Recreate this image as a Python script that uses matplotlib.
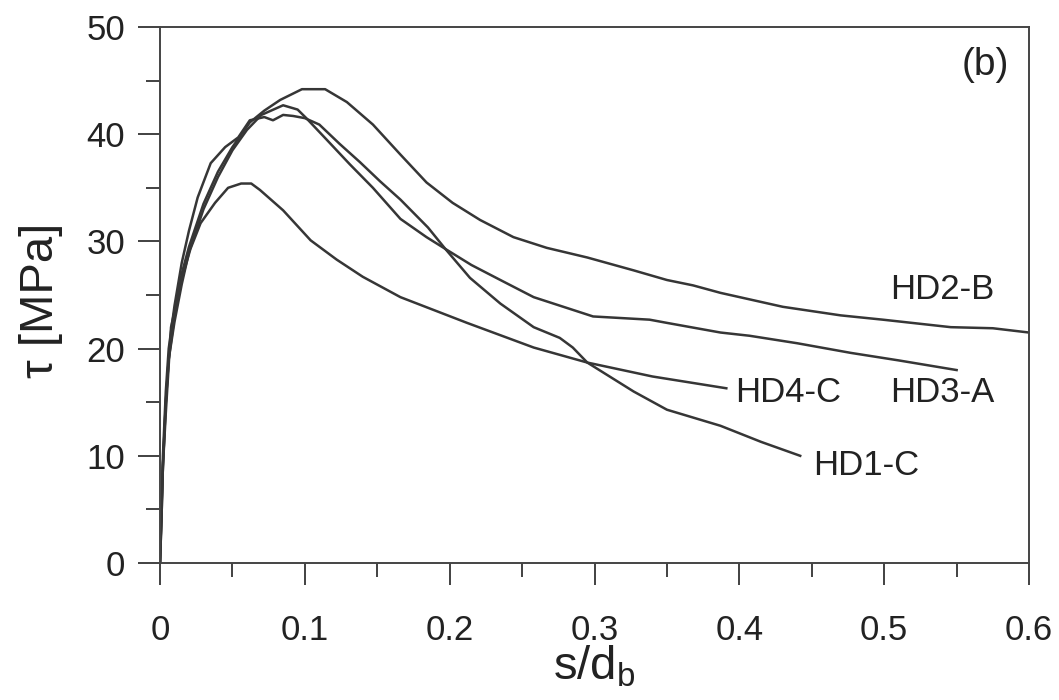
import matplotlib
matplotlib.use("Agg")
import matplotlib.pyplot as plt
from matplotlib.ticker import MultipleLocator

plt.rcParams['font.family'] = ['Liberation Sans', 'DejaVu Sans']

# bond stress - slip curves (s/db, tau in MPa)
hd2b_s = [0, .001, .002, .004, .006, .01, .015, .02, .03, .04, .05, .062, .072, .083,
          .098, .114, .129, .147, .166, .184, .202, .221, .244, .267, .295, .327, .350,
          .368, .387, .430, .470, .499, .546, .575, .600]
hd2b_t = [0, 4, 9, 15, 19, 23, 27, 29.5, 33.5, 36.5, 38.8, 41.1, 42.2, 43.2,
          44.2, 44.2, 43.0, 40.9, 38.1, 35.5, 33.6, 32.0, 30.4, 29.4, 28.5, 27.3, 26.4,
          25.9, 25.2, 23.9, 23.1, 22.7, 22.0, 21.9, 21.5]

hd1c_s = [0, .001, .002, .004, .006, .01, .015, .02, .026, .035, .045, .054, .062, .072,
          .078, .085, .092, .1, .110, .124, .138, .152, .166, .185, .197, .214, .235, .258,
          .276, .285, .295, .327, .350, .387, .415, .442]
hd1c_t = [0, 5, 10, 16, 20, 24, 28, 31, 34.1, 37.3, 38.8, 39.7, 41.3, 41.6,
          41.3, 41.8, 41.7, 41.5, 40.9, 39.1, 37.4, 35.6, 33.9, 31.3, 29.3, 26.6, 24.2, 22.0,
          21.0, 20.1, 18.7, 16.0, 14.3, 12.8, 11.3, 10.0]

hd3a_s = [0, .001, .002, .004, .006, .01, .015, .02, .03, .04, .05, .06, .07, .085,
          .095, .101, .115, .131, .147, .166, .184, .197, .215, .235, .258, .299,
          .338, .350, .387, .407, .440, .477, .510, .550]
hd3a_t = [0, 4, 9, 15, 19, 22.5, 26, 29, 33, 36, 38.5, 40.4, 41.8, 42.7,
          42.3, 41.5, 39.5, 37.2, 35.0, 32.1, 30.4, 29.3, 27.8, 26.4, 24.8, 23.0,
          22.7, 22.4, 21.5, 21.2, 20.5, 19.6, 18.9, 18.0]

hd4c_s = [0, .001, .002, .004, .0076, .014, .021, .028, .038, .047, .056, .063, .069,
          .085, .104, .122, .140, .166, .212, .258, .295, .340, .391]
hd4c_t = [0, 5, 9, 14, 22, 26, 29.3, 31.7, 33.6, 35.0, 35.4, 35.4, 34.8,
          32.9, 30.1, 28.3, 26.7, 24.8, 22.4, 20.1, 18.7, 17.4, 16.3]

series = [(hd2b_s, hd2b_t), (hd1c_s, hd1c_t), (hd3a_s, hd3a_t), (hd4c_s, hd4c_t)]
labels = [("HD2-B", 0.504, 25.5), ("HD3-A", 0.504, 15.9),
          ("HD4-C", 0.397, 15.9), ("HD1-C", 0.451, 9.1)]

fig = plt.figure(figsize=(10.59, 7), dpi=100)
ax = fig.add_axes([0.1511, 0.1957, 0.8206, 0.7657])

for s, t in series:
    ax.plot(s, t, color="#363636", lw=1.8)

for name, x, y in labels:
    ax.text(x, y, name, fontsize=25, color="#222222", va="center", ha="left")
ax.text(0.57, 46.5, "(b)", fontsize=28, color="#222222", va="center", ha="center")

ax.set_xlim(0, 0.6)
ax.set_ylim(0, 50)
ax.xaxis.set_major_locator(MultipleLocator(0.1))
ax.xaxis.set_minor_locator(MultipleLocator(0.05))
ax.yaxis.set_major_locator(MultipleLocator(10))
ax.yaxis.set_minor_locator(MultipleLocator(5))
ax.set_xticks([0, 0.1, 0.2, 0.3, 0.4, 0.5, 0.6])
ax.set_xticklabels(["0", "0.1", "0.2", "0.3", "0.4", "0.5", "0.6"])

ax.tick_params(which="major", direction="out", length=16, width=1.3,
               color="#333333", labelsize=25, labelcolor="#222222")
ax.tick_params(which="minor", direction="out", length=10, width=1.3, color="#333333")
ax.tick_params(axis="x", which="major", pad=21)
ax.tick_params(axis="y", which="major", pad=9)

for sp in ax.spines.values():
    sp.set_linewidth(1.4)
    sp.set_color("#444444")

ax.set_xlabel("s/d$_\\mathregular{b}$", fontsize=34, color="#222222")
ax.set_ylabel("\u03c4 [MPa]", fontsize=34, color="#222222")
ax.xaxis.set_label_coords(0.5, -0.152)
ax.yaxis.set_label_coords(-0.112, 0.49)

fig.savefig("out.png", dpi=100)
